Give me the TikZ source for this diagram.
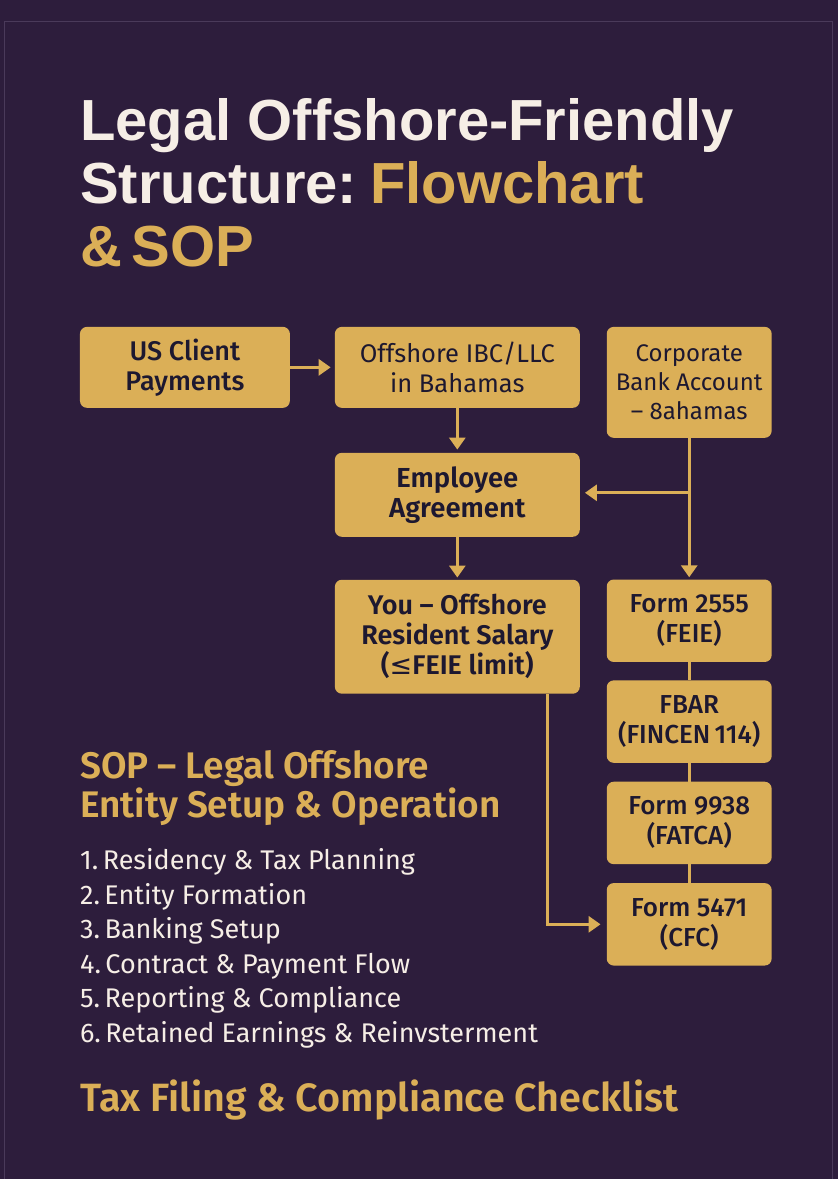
\documentclass[tikz,border=0pt]{standalone}
\usepackage{fontspec}
\setmainfont{Fira Sans}
\newfontfamily\medfont{Fira Sans Medium}
\newfontfamily\semifont{Fira Sans SemiBold}
\newfontfamily\titlefont{Liberation Sans}
\newfontfamily\symfont{DejaVu Sans}
\usetikzlibrary{positioning,calc,arrows.meta}

\definecolor{bgpurple}{HTML}{2D1D3C}
\definecolor{edgepurple}{HTML}{4A3A5A}
\definecolor{gold}{HTML}{DBAF57}
\definecolor{ink}{HTML}{1D1830}
\definecolor{cream}{HTML}{F6EEE6}

\tikzset{
	box/.style={fill=gold, rounded corners=7pt, text=ink, align=center, inner sep=0pt,
		font=\medfont\fontsize{27}{30}\selectfont},
	formbox/.style={box, minimum width=165pt, minimum height=82.5pt,
		font=\medfont\fontsize{26}{30}\selectfont},
	flow/.style={draw=gold, line width=3pt, -{Triangle[length=12pt,width=16pt]}},
	link/.style={draw=gold, line width=3pt},
	goldhead/.style={anchor=base west, text=gold, inner sep=0pt, font=\semifont\fontsize{37}{40}\selectfont},
}

\begin{document}
\begin{tikzpicture}[x=1pt,y=-1pt]
	\fill[bgpurple] (0,0) rectangle (838,1179);
	\draw[edgepurple, line width=1pt] (5,1179) |- (833,22) -- (833,1179);
	\useasboundingbox (0,0) rectangle (838,1179);
	% heading
	\begin{scope}[every node/.style={anchor=base west, inner sep=0pt,
			font=\titlefont\bfseries\fontsize{58}{63}\selectfont}]
		\node[text=cream] (title1) at (80,141) {Legal Offshore-Friendly};
		\node[text=cream] (title2) at (80,204) {Structure:\hspace{13pt}\textcolor{gold}{Flowchart}};
		\node[text=gold] (title3) at (80,267) {\&\,SOP};
	\end{scope}
	% flowchart
	\node[box, minimum width=210pt, minimum height=81pt] (client) at (185,367.5) {US Client\\Payments};
	\node[box, minimum width=245pt, minimum height=81pt, font=\fontsize{25.5}{30}\selectfont] (ibc) at (457.5,367.5) {Offshore IBC/LLC\\in Bahamas};
	\node[box, minimum width=165pt, minimum height=111pt, font=\fontsize{24}{29}\selectfont] (bank) at (689.5,382.5) {Corporate\\Bank Account\\– 8ahamas};
	\node[box, minimum width=245pt, minimum height=84pt, font=\semifont\fontsize{27.5}{30}\selectfont] (agree) at (457.5,495) {Employee\\Agreement};
	\node[box, minimum width=245pt, minimum height=114pt, font=\semifont\fontsize{27}{30}\selectfont] (salary) at (457.5,637) {You – Offshore\\Resident Salary\\({\symfont ≤}FEIE limit)};
	\node[formbox] (f2555) at (689.5,621) {Form 2555\\(FEIE)};
	\node[formbox, below=18pt of f2555] (fbar) {FBAR\\(FINCEN\,114)};
	\node[formbox, below=18.5pt of fbar] (f9938) {Form 9938\\(FATCA)};
	\node[formbox, below=18.5pt of f9938] (f5471) {Form 5471\\(CFC)};

	\draw[flow, shorten >=4pt] (client.east) -- (ibc.west);
	\draw[flow, shorten >=3pt] (ibc.south) -- (agree.north);
	\draw[flow, shorten >=2pt] (bank.south) -- (f2555.north);
	\coordinate (split) at (bank.south |- 0,493);
	\draw[flow, shorten >=5pt] (split) -- (split -| agree.east);
	\draw[flow, shorten >=2pt] (agree.south) -- (salary.north);
	\draw[flow, shorten >=6pt] ([xshift=90pt]salary.south) |- (f5471.west);
	\draw[link] (f2555) -- (fbar);
	\draw[link] (fbar) -- (f9938);
	\draw[link] (f9938) -- (f5471);

	% SOP list
	\node[goldhead] (sop1) at (80,779) {SOP – Legal Offshore};
	\node[goldhead] (sop2) at (80,818) {Entity Setup \& Operation};
	\foreach \txt [count=\i] in {Residency \& Tax Planning, Entity Formation, Banking Setup,
			Contract \& Payment Flow, Reporting \& Compliance, Retained Earnings \& Reinvsterment}
		\node[anchor=base west, inner sep=0pt, text=cream, font=\fontsize{27}{30}\selectfont]
			(step\i) at (80,835.5+34.5*\i) {\i.\,\txt};
	\node[goldhead, font=\semifont\fontsize{39.5}{42}\selectfont] (check) at (80,1112) {Tax Filing \& Compliance Checklist};
\end{tikzpicture}
\end{document}
